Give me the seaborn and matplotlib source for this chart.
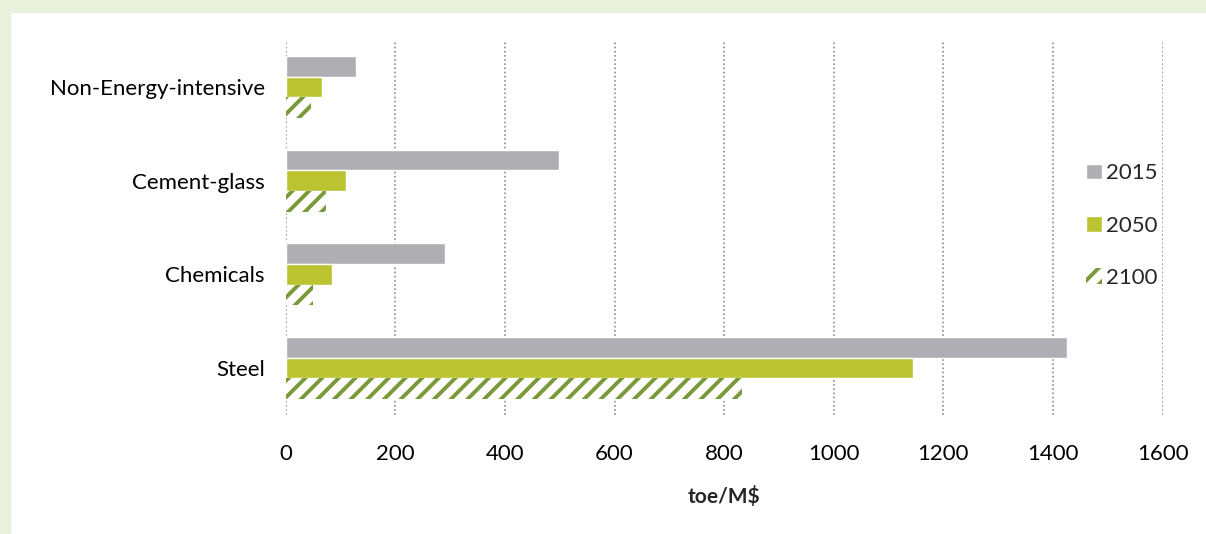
import pandas as pd
import matplotlib.pyplot as plt
import seaborn as sns
from matplotlib.patches import Rectangle

# Data (toe/M$)
sectors = ["Non-Energy-intensive", "Cement-glass", "Chemicals", "Steel"]
years = ["2015", "2050", "2100"]
vals_2015 = [128, 498, 290, 1425]
vals_2050 = [66, 110, 84, 1144]
vals_2100 = [46, 73, 49, 832]

df = pd.DataFrame({
    "Sector": sectors * 3,
    "Year": [y for y in years for _ in sectors],
    "Value": vals_2015 + vals_2050 + vals_2100,
})

sns.set_theme(style="white")
plt.rcParams["font.family"] = ["Lato", "DejaVu Sans"]
plt.rcParams["hatch.linewidth"] = 2.8

gray = "#AFAFB3"
lime = "#BBC331"
green = "#7A9A3A"

fig = plt.figure(figsize=(12.06, 5.34), dpi=100, facecolor="white")
ax = fig.add_axes([0.237, 0.223, 0.727, 0.702])

sns.barplot(data=df, x="Value", y="Sector", hue="Year", orient="h",
            palette=[gray, lime, "white"], width=0.66, saturation=1,
            errorbar=None, ax=ax)

# hatched style for 2100 bars
for bar in ax.containers[2]:
    bar.set_facecolor("white")
    bar.set_edgecolor(green)
    bar.set_hatch("//")
    bar.set_linewidth(0)

ax.set_ylim(3.5, -0.5)
ax.set_xlim(0, 1600)
ax.set_xticks(range(0, 1601, 200))
ax.grid(axis="x", color="#8C8C8C", linestyle=(0, (1, 1.5)), linewidth=1.2)
ax.set_axisbelow(True)
for s in ax.spines.values():
    s.set_visible(False)
ax.tick_params(axis="both", length=0, labelsize=16, colors="black")
ax.tick_params(axis="y", pad=15)
ax.tick_params(axis="x", pad=21)
ax.set_ylabel("")
ax.set_xlabel("toe/M$", fontsize=15, fontweight="bold", labelpad=16)

handles, labels = ax.get_legend_handles_labels()
leg = ax.legend(handles, labels, loc="center left", bbox_to_anchor=(0.89, 0.505),
                frameon=False, fontsize=16, handlelength=0.7, handleheight=0.7,
                handletextpad=0.2, labelspacing=1.45)
leg.legend_handles[2].set_edgecolor(green)
leg.legend_handles[2].set_hatch("//")
leg.legend_handles[2].set_linewidth(0)

# light green frame along top and left edges
border = "#E9F1DC"
fig.patches.append(Rectangle((0, 0), 10 / 1206, 1, transform=fig.transFigure,
                             color=border, zorder=-1))
fig.patches.append(Rectangle((0, 1 - 12 / 534), 1, 12 / 534, transform=fig.transFigure,
                             color=border, zorder=-1))

fig.savefig("out.png", dpi=100, facecolor="white")
